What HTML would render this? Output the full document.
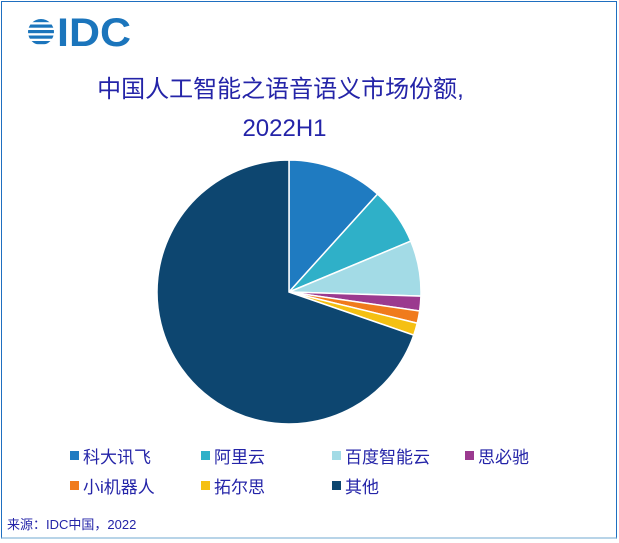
<!DOCTYPE html>
<html><head><meta charset="utf-8"><style>
body{margin:0;background:#fff;}
#wrap{position:relative;width:619px;height:543px;overflow:hidden;font-family:"Liberation Sans","Noto Sans CJK SC",sans-serif;}
#frame{position:absolute;left:1px;top:1px;width:614px;height:535px;border:1px solid #1f6fc0;border-bottom:2px solid #b8d4e8;}
.t{position:absolute;color:#2424a8;white-space:nowrap;}
.sq{position:absolute;width:9px;height:9px;}
</style></head><body>
<div id="wrap">
<div id="frame"></div>
<svg style="position:absolute;left:22px;top:12px" width="120" height="40">
 <defs><clipPath id="cc"><circle cx="19" cy="20" r="13"/></clipPath></defs>
 <g clip-path="url(#cc)" fill="#1b75bc">
  <rect x="0" y="7" width="40" height="3.2"/><rect x="0" y="12.5" width="40" height="3.2"/><rect x="0" y="18" width="40" height="3.2"/><rect x="0" y="23.5" width="40" height="3.2"/><rect x="0" y="29" width="40" height="3.2"/>
 </g>
 <text x="35" y="34" font-family="Liberation Sans" font-weight="bold" font-size="40" fill="#1b75bc" textLength="74" lengthAdjust="spacingAndGlyphs">IDC</text>
</svg>
<div class="t" style="left:-29px;width:619px;text-align:center;top:70px;font-size:24px;line-height:39px;">中国人工智能之语音语义市场份额,<br><span style="margin-left:8px">2022H1</span></div>
<svg id="pie" style="position:absolute;left:0;top:0" width="619" height="543"></svg>
<div id="legend"></div>
<div class="t" style="left:7px;top:514px;font-size:13px;">来源：IDC中国，2022</div>
</div>
<script>
const categories=["科大讯飞","阿里云","百度智能云","思必驰","小i机器人","拓尔思","其他"];
const shares=[11.7,7.0,6.8,1.8,1.5,1.5,69.7];
const colors=["#1f7bc1","#2fb0c8","#a3dbe6","#9b3a8f","#f07b1c","#f5c012","#0d4670"];
const cx=289,cy=292,r=132;
const svg=document.getElementById('pie');
const total=shares.reduce((a,b)=>a+b,0);
let acc=0;
function pt(f){const a=f*2*Math.PI;return [cx+r*Math.sin(a),cy-r*Math.cos(a)];}
shares.forEach((v,i)=>{
 const s=acc/total;acc+=v;const e=acc/total;
 const [x1,y1]=pt(s),[x2,y2]=pt(e);
 const p=document.createElementNS('http://www.w3.org/2000/svg','path');
 p.setAttribute('d',`M${cx},${cy}L${x1},${y1}A${r},${r} 0 ${(e-s)>0.5?1:0} 1 ${x2},${y2}Z`);
 p.setAttribute('fill',colors[i]);p.setAttribute('stroke','#fff');p.setAttribute('stroke-width','1.5');
 
 
 svg.appendChild(p);
});
const lg=document.getElementById('legend');
const colX=[70,201,332,465];
categories.forEach((c,i)=>{
 const x=colX[i%4],y=i<4?446:476;
 const sq=document.createElement('div');sq.className='sq';
 sq.style.left=x+'px';sq.style.top=(y+5)+'px';sq.style.background=colors[i];
 
 
 lg.appendChild(sq);
 const t=document.createElement('div');t.className='t';t.textContent=c;
 t.style.left=(x+13)+'px';t.style.top=(y-3)+'px';t.style.fontSize='17px';
 
 
 lg.appendChild(t);
});
</script>
</body></html>
